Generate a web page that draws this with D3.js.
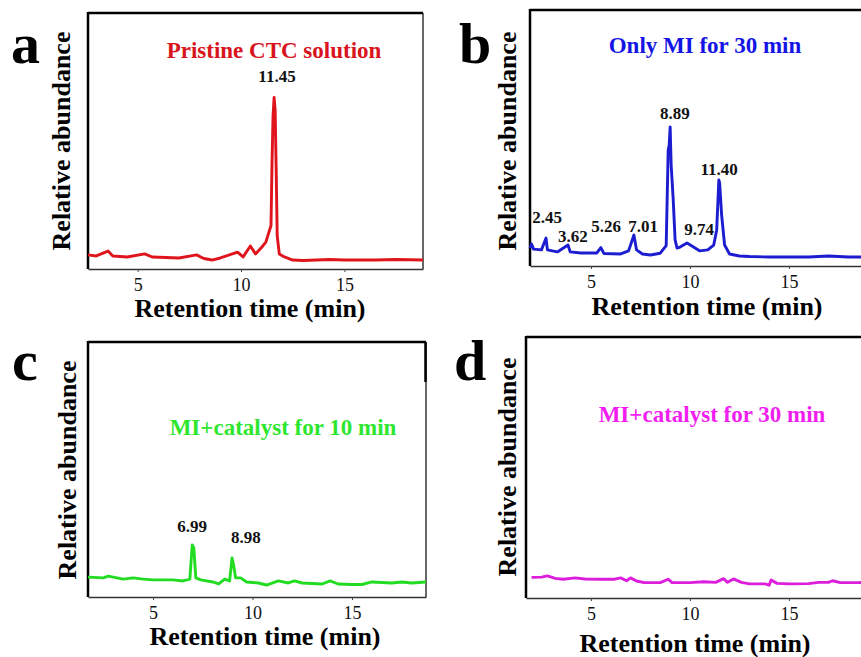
<!DOCTYPE html>
<html>
<head>
<meta charset="utf-8">
<script src="https://cdn.jsdelivr.net/npm/d3@7"></script>
<style>
  body { margin: 0; background: #fff; }
  svg { display: block; }
  svg text { font-family: "Liberation Serif", "Times New Roman", Tinos, "DejaVu Serif", serif; }
</style>
</head>
<body>
<div id="chart"></div>
<script>
// retention time (min) and relative abundance (%)
const aTime   = [2.6, 3.0, 3.57, 3.8, 4.5, 5.34, 5.7, 7.0, 7.85, 8.2, 8.6, 9.0, 9.83, 10.1, 10.45, 10.7, 11.0, 11.2, 11.45, 11.5, 11.55, 11.6, 11.65, 11.7, 11.75, 11.85, 12.1, 12.5, 13.0, 14.3, 15.0, 16.5, 17.5, 18.8];
const aSignal = [5.5, 5.1, 7.0, 5.1, 4.7, 5.9, 4.7, 4.3, 5.5, 4.1, 3.5, 4.3, 6.6, 4.7, 9.0, 5.9, 8.5, 10.5, 17, 42, 60, 67, 62, 39, 13, 5.9, 4.7, 3.5, 3.3, 3.7, 3.5, 3.5, 3.7, 3.5];

const bTime   = [1.92, 2.0, 2.1, 2.5, 2.73, 2.8, 3.3, 3.84, 3.95, 4.5, 5.3, 5.5, 5.65, 6.5, 6.9, 7.17, 7.3, 7.6, 8.0, 8.5, 8.8, 8.9, 8.95, 9.0, 9.05, 9.15, 9.25, 9.35, 9.5, 9.85, 10.1, 10.5, 10.9, 11.2, 11.35, 11.46, 11.5, 11.6, 11.75, 12.0, 12.5, 13.0, 14.0, 15.0, 16.0, 17.0, 18.0, 19.5];
const bSignal = [7.0, 8.6, 6.6, 6.3, 10.9, 6.3, 5.5, 8.2, 5.5, 5.1, 5.1, 7.2, 4.9, 4.7, 5.9, 12.1, 6.3, 4.7, 4.3, 5.0, 8.0, 45.3, 47, 54.3, 39.5, 26.6, 10.2, 7.0, 7.4, 9.0, 7.8, 5.9, 6.3, 8.2, 14, 33.6, 32.4, 20, 8.2, 4.7, 3.9, 3.7, 3.5, 3.5, 3.5, 3.9, 3.5, 3.5];

const cTime   = [1.73, 2.5, 2.75, 3.5, 4.0, 4.5, 5.0, 5.5, 6.0, 6.5, 6.85, 6.97, 7.05, 7.15, 7.4, 8.0, 8.3, 8.6, 8.85, 8.97, 9.05, 9.15, 9.4, 9.7, 10.3, 10.7, 11.3, 11.8, 12.1, 12.5, 13.5, 13.9, 14.3, 15.0, 15.5, 16.0, 17.0, 17.5, 18.0, 18.72];
const cSignal = [7.8, 7.5, 8.2, 7.0, 7.5, 7.0, 6.7, 6.7, 6.7, 6.3, 7.0, 20.4, 19.2, 7.5, 6.7, 5.9, 5.1, 7.0, 6.3, 15.3, 12.5, 7.5, 7.5, 5.9, 5.5, 4.7, 6.3, 5.5, 6.3, 5.5, 5.1, 6.3, 5.1, 4.9, 4.9, 5.9, 5.5, 5.9, 5.5, 5.9];

const dTime   = [2.0, 2.5, 2.8, 3.2, 3.6, 4.2, 4.7, 5.5, 6.2, 6.5, 6.8, 7.0, 7.3, 7.7, 8.5, 8.9, 9.1, 10.0, 10.7, 11.3, 11.7, 11.9, 12.2, 12.6, 13.0, 13.8, 14.0, 14.1, 14.4, 15.0, 16.0, 16.5, 17.0, 17.2, 17.6, 18.5, 19.5];
const dSignal = [7.9, 8.0, 8.5, 7.5, 7.2, 7.7, 7.3, 7.2, 7.2, 7.7, 6.6, 7.7, 6.5, 5.9, 5.9, 7.2, 5.9, 5.9, 6.2, 6.0, 7.4, 6.0, 7.3, 6.0, 5.4, 5.4, 4.9, 6.9, 5.6, 5.4, 5.5, 6.0, 6.0, 6.6, 5.9, 5.9, 6.0];

// peak annotations: label text, anchor time, anchor abundance
const aPeakLabels = ["11.45"];
const aPeakT      = [11.74];
const aPeakV      = [73];
const bPeakLabels = ["2.45", "3.62", "5.26", "7.01", "8.89", "9.74", "11.40"];
const bPeakT      = [2.78, 4.09, 5.76, 7.63, 9.24, 10.46, 11.47];
const bPeakV      = [16.8, 9.4, 13.3, 13.3, 57.4, 12.1, 35.5];
const cPeakLabels = ["6.99", "8.98"];
const cPeakT      = [6.96, 9.67];
const cPeakV      = [25.5, 21.2];
const dPeakLabels = [];
const dPeakT      = [];
const dPeakV      = [];

const titles = ["Pristine CTC solution", "Only MI for 30 min", "MI+catalyst for 10 min", "MI+catalyst for 30 min"];
const letters = ["a", "b", "c", "d"];
const tickValues = [5, 10, 15];

const width = 861, height = 657;

const svg = d3.select("#chart").append("svg")
    .attr("width", width)
    .attr("height", height)
    .style("background", "#fff");

const panels = [
  {letter: letters[0], title: titles[0], time: aTime, signal: aSignal,
   labels: aPeakLabels, lt: aPeakT, lv: aPeakV,
   xDomain: [2.6, 18.8], left: 88, right: 423, top: 13, bottom: 269,
   color: "#e0141c", titleColor: "#d8141c", titleX: 274, titleY: 58,
   letterX: 11, letterY: 63, yLabelX: 70, yLabelY: 141, xTitleX: 250, xTitleY: 317},
  {letter: letters[1], title: titles[1], time: bTime, signal: bSignal,
   labels: bPeakLabels, lt: bPeakT, lv: bPeakV,
   xDomain: [1.92, 19.5], left: 530, right: 878, top: 10, bottom: 266,
   color: "#1c1cd0", titleColor: "#1414e6", titleX: 705, titleY: 53,
   letterX: 459, letterY: 63, yLabelX: 516, yLabelY: 141, xTitleX: 707, xTitleY: 315},
  {letter: letters[2], title: titles[2], time: cTime, signal: cSignal,
   labels: cPeakLabels, lt: cPeakT, lv: cPeakV,
   xDomain: [1.73, 18.72], left: 88, right: 426, top: 342, bottom: 597,
   color: "#22dc22", titleColor: "#2ee62e", titleX: 283, titleY: 435,
   letterX: 12, letterY: 380, yLabelX: 76, yLabelY: 470, xTitleX: 265, xTitleY: 645, shortRight: 40},
  {letter: letters[3], title: titles[3], time: dTime, signal: dSignal,
   labels: dPeakLabels, lt: dPeakT, lv: dPeakV,
   xDomain: [1.72, 19.5], left: 526, right: 878, top: 337, bottom: 598,
   color: "#dc1edc", titleColor: "#f01ef0", titleX: 712, titleY: 422,
   letterX: 454, letterY: 380, yLabelX: 516, yLabelY: 467, xTitleX: 695, xTitleY: 652}
];

panels.forEach(drawPanel);

function drawPanel(p) {
  const x = d3.scaleLinear().domain(p.xDomain).range([p.left, p.right]);
  const y = d3.scaleLinear().domain([0, 100]).range([p.bottom, p.top]);
  const g = svg.append("g");

  // frame: heavy top/left, lighter right
  g.append("line")
      .attr("x1", p.left).attr("x2", p.right)
      .attr("y1", p.top).attr("y2", p.top)
      .attr("stroke", "#000").attr("stroke-width", 2.5);
  g.append("line")
      .attr("x1", p.left).attr("x2", p.left)
      .attr("y1", p.top - 1).attr("y2", p.bottom)
      .attr("stroke", "#000").attr("stroke-width", 2.5);
  g.append("line")
      .attr("x1", p.right).attr("x2", p.right)
      .attr("y1", p.top).attr("y2", p.bottom)
      .attr("stroke", "#000").attr("stroke-width", 1.2);
  if (p.shortRight) {
    g.append("line")
        .attr("x1", p.right - 0.5).attr("x2", p.right - 0.5)
        .attr("y1", p.top).attr("y2", p.top + p.shortRight)
        .attr("stroke", "#000").attr("stroke-width", 2.5);
  }

  // x axis
  const axis = g.append("g")
      .attr("transform", "translate(0," + p.bottom + ")")
      .call(d3.axisBottom(x).tickValues(tickValues).tickSize(3).tickPadding(6).tickSizeOuter(0));
  axis.attr("font-family", null);
  axis.select(".domain").attr("stroke", "#333").attr("stroke-width", 1.6);
  axis.selectAll(".tick line").attr("stroke", "#444");
  axis.selectAll("text")
      .attr("font-size", "18px")
      .attr("fill", "#111");

  // trace
  const line = d3.line()
      .x(function(d, i) { return x(p.time[i]); })
      .y(function(d) { return y(d); });
  g.append("path")
      .datum(p.signal)
      .attr("d", line)
      .attr("fill", "none")
      .attr("stroke", p.color)
      .attr("stroke-width", 2.9)
      .attr("stroke-linejoin", "round");

  // peak labels
  g.selectAll(".peak")
      .data(p.labels)
      .enter()
      .append("text")
      .attr("x", function(d, i) { return x(p.lt[i]); })
      .attr("y", function(d, i) { return y(p.lv[i]); })
      .attr("text-anchor", "middle")
      .attr("font-weight", "bold")
      .attr("font-size", "17px")
      .attr("fill", "#111")
      .text(function(d) { return d; });

  // panel title
  g.append("text")
      .attr("x", p.titleX).attr("y", p.titleY)
      .attr("text-anchor", "middle")
      .attr("font-weight", "bold")
      .attr("font-size", "23px")
      .attr("fill", p.titleColor)
      .text(p.title);

  // panel letter
  g.append("text")
      .attr("x", p.letterX).attr("y", p.letterY)
      .attr("font-weight", "bold")
      .attr("font-size", "58px")
      .attr("fill", "#000")
      .text(p.letter);

  // axis titles
  g.append("text")
      .attr("transform", "translate(" + p.yLabelX + "," + p.yLabelY + ") rotate(-90)")
      .attr("text-anchor", "middle")
      .attr("font-weight", "bold")
      .attr("font-size", "26px")
      .attr("fill", "#000")
      .text("Relative abundance");

  g.append("text")
      .attr("x", p.xTitleX).attr("y", p.xTitleY)
      .attr("text-anchor", "middle")
      .attr("font-weight", "bold")
      .attr("font-size", "26px")
      .attr("fill", "#000")
      .text("Retention time (min)");
}
</script>
</body>
</html>
